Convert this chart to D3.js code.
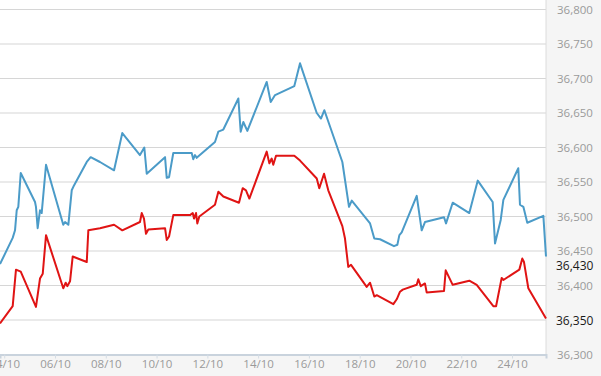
<!DOCTYPE html>
<html>
<head>
<meta charset="utf-8">
<script src="https://cdn.jsdelivr.net/npm/d3@7"></script>
<style>
  body { margin: 0; background: #f5f5f5; }
  svg { display: block; font-family: "Open Sans", sans-serif; }
</style>
</head>
<body>
<div id="chart"></div>
<script>
// hours counted from 04/10 00:00
var blueHours = [-4, 8, 10.2, 11.8, 13.3, 15.6, 29.1, 30, 31.6, 33.8, 35.4, 39.5, 55.8, 57.5, 60.6, 63.8, 65.3, 78, 81.7, 90.5,
  103.8, 111.6, 128.3, 132.4, 134.7, 152, 153.6, 155.8, 159.8, 177.2, 178.7, 180.3, 181.9, 199.2, 202.4, 207.1, 221.3, 223.5, 226, 229.8,
  248.1, 251.9, 256, 274.2, 279.6, 295.4, 299.4, 302.6, 319.6, 325.9, 328.5, 345.8, 349.8, 355.2, 368.4, 371.6, 373.5, 375.7, 389.9, 394.6,
  397.7, 415.7, 417.6, 423.9, 439.6, 447.6, 461.7, 463.9, 469.3, 471.8, 485.9, 487.5, 490.7, 494.4, 509.6, 512.1];
var blueValues = [36431, 36469, 36480, 36509, 36514, 36563, 36521, 36514, 36483, 36509, 36505, 36575, 36488, 36492, 36488, 36538, 36543, 36579, 36586, 36579,
  36567, 36621, 36589, 36600, 36562, 36586, 36556, 36557, 36592, 36592, 36583, 36589, 36585, 36608, 36623, 36626, 36671, 36623, 36637, 36624,
  36695, 36666, 36676, 36689, 36722, 36650, 36642, 36654, 36579, 36514, 36523, 36490, 36468, 36467, 36457, 36459, 36473, 36477, 36530, 36480,
  36492, 36499, 36490, 36520, 36505, 36552, 36521, 36461, 36495, 36524, 36570, 36517, 36514, 36491, 36501, 36442];

var redHours = [-4, 8, 11.1, 15.6, 30, 33.8, 36.4, 39.5, 55.8, 58.1, 59.6, 62.2, 64.7, 78, 79.5, 90.5, 103.8, 111.6, 128.3, 130,
  132.1, 134, 136.2, 152, 153.6, 155.8, 159.8, 175.6, 178.2, 179.4, 181.3, 182.5, 184.4, 199.2, 202.4, 207.1, 221.9, 225.4, 228.5, 231.7,
  248.1, 250.6, 252.8, 254.3, 256.9, 274.2, 279.6, 295.4, 297.8, 302.3, 306.3, 319.6, 322.1, 325.2, 327.8, 342.6, 345.8, 349.8, 352.1, 367.8,
  371, 374.1, 376.7, 389.9, 391.4, 393.7, 397.7, 399.3, 415.7, 417.3, 423.9, 439.6, 446.6, 462.3, 464.9, 470.2, 471.8, 486.9, 489.7, 491.3,
  495.4, 512.1];
var redValues = [36345, 36370, 36423, 36420, 36369, 36410, 36417, 36473, 36396, 36404, 36399, 36406, 36442, 36434, 36480, 36483, 36488, 36480, 36492, 36505,
  36497, 36475, 36481, 36483, 36466, 36471, 36502, 36502, 36505, 36497, 36505, 36490, 36500, 36517, 36536, 36529, 36520, 36541, 36538, 36526,
  36594, 36577, 36584, 36575, 36588, 36588, 36581, 36555, 36541, 36562, 36538, 36486, 36468, 36427, 36430, 36398, 36404, 36384, 36386, 36373,
  36380, 36391, 36394, 36401, 36409, 36399, 36403, 36390, 36392, 36422, 36401, 36407, 36401, 36370, 36370, 36411, 36408, 36423, 36439, 36434,
  36396, 36352];

var yTicks = [36300, 36350, 36400, 36450, 36500, 36550, 36600, 36650, 36700, 36750, 36800];
var xTickDays = [4, 6, 8, 10, 12, 14, 16, 18, 20, 22, 24];
var lastLabels = [36430, 36350];

var width = 601, height = 376;
var plotW = 546, plotTop = 9.5, plotBottom = 354.5;

var start = new Date(2023, 9, 4);
function toDate(h) { return new Date(start.getTime() + h * 3600e3); }

var blue = blueHours.map(function(h, i) { return {t: toDate(h), v: blueValues[i]}; });
var red = redHours.map(function(h, i) { return {t: toDate(h), v: redValues[i]}; });

var svg = d3.select("#chart").append("svg")
  .attr("width", width)
  .attr("height", height);

var x = d3.scaleTime()
  .domain([toDate(blueHours[0]), toDate(blueHours[blueHours.length - 1])])
  .range([0, plotW]);

var y = d3.scaleLinear()
  .domain([36300, 36800])
  .range([plotBottom, plotTop]);

// white plot area
svg.append("rect")
  .attr("x", 0).attr("y", 0)
  .attr("width", plotW).attr("height", plotBottom)
  .attr("fill", "#fff");

// gridlines
svg.append("g")
  .selectAll("line")
  .data(yTicks.slice(1))
  .enter().append("line")
    .attr("x1", 0).attr("x2", plotW)
    .attr("y1", function(d) { return y(d); })
    .attr("y2", function(d) { return y(d); })
    .attr("stroke", "#d6d6d6")
    .attr("stroke-width", 1.2);

// right border
svg.append("line")
  .attr("x1", plotW).attr("x2", plotW)
  .attr("y1", 0).attr("y2", plotBottom)
  .attr("stroke", "#dcdcdc");

// x axis
var xAxis = svg.append("g")
  .attr("transform", "translate(0," + plotBottom + ")")
  .call(d3.axisBottom(x)
    .tickValues(xTickDays.map(function(d) { return new Date(2023, 9, d); }))
    .tickFormat(d3.timeFormat("%d/%m"))
    .tickSize(4)
    .tickPadding(1));
xAxis.select(".domain").attr("stroke", "#c9d3dd").attr("stroke-width", 2);
xAxis.selectAll(".tick line").attr("stroke", "#d5dde5");
xAxis.selectAll(".tick text")
  .attr("fill", "#9a9a9a")
  .style("font-size", "11.5px")
  .style("font-family", "Open Sans, sans-serif");

// y axis labels on the right
svg.append("g")
  .selectAll("text")
  .data(yTicks.filter(function(d) {
    return lastLabels.every(function(l) { return Math.abs(y(d) - y(l)) > 9; });
  }))
  .enter().append("text")
    .attr("x", 557)
    .attr("y", function(d) { return y(d); })
    .attr("dy", "0.35em")
    .attr("fill", "#9a9a9a")
    .style("font-size", "11.5px")
    .text(d3.format(","));

svg.append("g")
  .selectAll("text")
  .data(lastLabels)
  .enter().append("text")
    .attr("x", 556)
    .attr("y", function(d) { return y(d) + 1; })
    .attr("dy", "0.35em")
    .attr("fill", "#1a1a1a")
    .style("font-size", "12px")
    .text(d3.format(","));

var line = d3.line()
  .x(function(d) { return x(d.t); })
  .y(function(d) { return y(d.v); });

svg.append("path")
  .datum(blue)
  .attr("fill", "none")
  .attr("stroke", "#4b9bc8")
  .attr("stroke-width", 2)
  .attr("stroke-linejoin", "round")
  .attr("d", line);

svg.append("path")
  .datum(red)
  .attr("fill", "none")
  .attr("stroke", "#e01414")
  .attr("stroke-width", 2)
  .attr("stroke-linejoin", "round")
  .attr("d", line);
</script>
</body>
</html>
